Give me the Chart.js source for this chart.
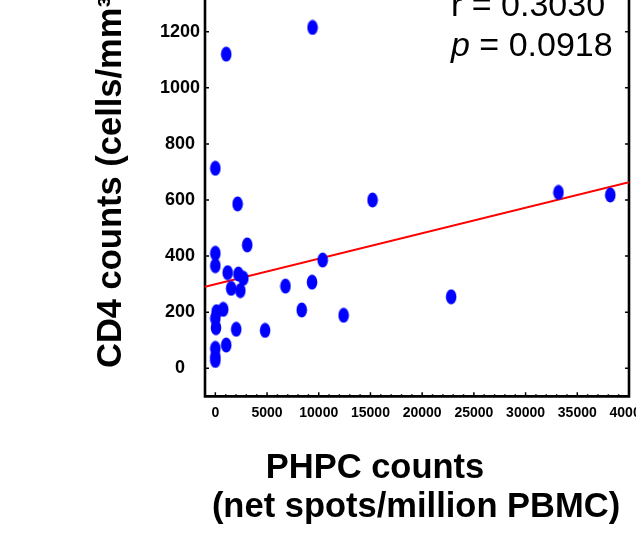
<!DOCTYPE html>
<html>
<head>
<meta charset="utf-8">
<script src="https://cdn.jsdelivr.net/npm/chart.js@4/dist/chart.umd.min.js"></script>
<style>
  html, body { margin: 0; padding: 0; background: #fff; }
  #wrap { position: relative; width: 636px; height: 542px; overflow: hidden; background: #fff; }
  #c { position: absolute; left: 0; top: -40px; }
</style>
</head>
<body>
<div id="wrap"><canvas id="c" width="636" height="582"></canvas></div>
<script>
// ---- data ----
const phpcCounts = [9400, 1050, 0, 2150, 15200, 3080, 0, 0, 1190, 2230, 2710, 1530, 2420, 10380, 6780, 9350, 8350, 12400, 4810, 2020, 760, 120, 0, 60, 1050, 0, 0, 0, 22800, 33180, 38190];
const cd4Counts  = [1215, 1120, 713, 586, 600, 440, 410, 366, 341, 336, 321, 285, 277, 386, 293, 307, 208, 189, 135, 139, 210, 202, 178, 145, 83, 71, 41, 28, 255, 627, 618];
const fitX = [-1000, 40000];
const fitY = [291, 663];
const xTickValues = [0, 5000, 10000, 15000, 20000, 25000, 30000, 35000, 40000];
const yTickValues = [0, 200, 400, 600, 800, 1000, 1200];
const statR = 'r = 0.3030';
const statP = ' = 0.0918';
const yTitle = 'CD4 counts (cells/mm³)';
const xTitle1 = 'PHPC counts';
const xTitle2 = '(net spots/million PBMC)';

const K = 40; // canvas offset (chart extends above the visible window)
const FONT = '"Liberation Sans", Arial, Helvetica, sans-serif';

// elliptical marker
const dot = document.createElement('canvas');
dot.width = 12; dot.height = 16;
(function(){
  const g = dot.getContext('2d');
  g.fillStyle = '#0000FF';
  g.beginPath();
  g.ellipse(6, 8, 5.3, 7.4, 0, 0, Math.PI * 2);
  g.fill();
})();

const scatterData = phpcCounts.map((x, i) => ({x: x, y: cd4Counts[i]}));
const fitData = fitX.map((x, i) => ({x: x, y: fitY[i]}));

const decor = {
  id: 'decor',
  beforeDatasetsDraw(chart) {
    const ctx = chart.ctx, a = chart.chartArea;
    const xs = chart.scales.x, ys = chart.scales.y;
    ctx.save();
    ctx.strokeStyle = '#000';
    ctx.lineWidth = 1.5;
    ctx.beginPath();
    yTickValues.forEach(v => {
      const py = ys.getPixelForValue(v);
      ctx.moveTo(a.left, py); ctx.lineTo(a.left + 4, py);
      ctx.moveTo(a.right, py); ctx.lineTo(a.right - 4, py);
    });
    for (let v = 0; v <= 40000; v += 1000) {
      const px = xs.getPixelForValue(v);
      const len = (v % 5000 === 0) ? 4 : 2;
      ctx.moveTo(px, a.bottom); ctx.lineTo(px, a.bottom - len);
    }
    ctx.stroke();
    ctx.lineWidth = 2.6;
    ctx.beginPath();
    ctx.moveTo(a.left, a.top - 2); ctx.lineTo(a.left, a.bottom);
    ctx.lineTo(a.right, a.bottom); ctx.lineTo(a.right, a.top - 2);
    ctx.stroke();
    ctx.restore();
  },
  afterDraw(chart) {
    const ctx = chart.ctx;
    ctx.save();
    ctx.fillStyle = '#000';
    ctx.textBaseline = 'alphabetic';
    ctx.font = '34px ' + FONT;
    ctx.textAlign = 'left';
    ctx.fillText(statR, 451, 15.5 + K);
    ctx.font = 'italic 34px ' + FONT;
    ctx.fillText('p', 451, 55.5 + K);
    const pw = ctx.measureText('p').width;
    ctx.font = '34px ' + FONT;
    ctx.fillText(statP, 451 + pw, 55.5 + K);
    ctx.font = 'bold 34.5px ' + FONT;
    ctx.textAlign = 'center';
    ctx.fillText(xTitle1, 375, 478 + K);
    ctx.fillText(xTitle2, 416, 517 + K);
    ctx.translate(121, 368 + K);
    ctx.rotate(-Math.PI / 2);
    ctx.textAlign = 'left';
    ctx.fillText(yTitle, 0, 0);
    ctx.restore();
  }
};

new Chart(document.getElementById('c'), {
  data: {
    datasets: [
      {
        type: 'scatter',
        data: scatterData,
        pointStyle: dot,
        pointRadius: 6,
        pointHoverRadius: 6,
        order: 1
      },
      {
        type: 'line',
        data: fitData,
        borderColor: '#FF0000',
        borderWidth: 2,
        pointRadius: 0,
        fill: false,
        tension: 0,
        order: 2
      }
    ]
  },
  options: {
    responsive: false,
    animation: false,
    events: [],
    layout: { padding: { top: 15.6, right: 6, left: 0, bottom: 0 } },
    plugins: { legend: { display: false }, tooltip: { enabled: false }, title: { display: false } },
    scales: {
      x: {
        type: 'linear',
        min: -1000,
        max: 40000,
        grid: { display: false, drawTicks: false },
        border: { display: false },
        afterBuildTicks(s) { s.ticks = xTickValues.map(v => ({value: v})); },
        afterFit(s) { s.height = 582 - 436.35; s.paddingLeft = 0; s.paddingRight = 0; },
        ticks: {
          autoSkip: false,
          maxRotation: 0,
          padding: 8,
          color: '#000',
          font: { family: FONT, size: 14, weight: 'bold' },
          callback: v => String(v)
        }
      },
      y: {
        type: 'linear',
        min: -100,
        max: 1400,
        grid: { display: false, drawTicks: false },
        border: { display: false },
        afterBuildTicks(s) { s.ticks = yTickValues.map(v => ({value: v})); },
        afterFit(s) { s.width = 205; s.paddingTop = 0; s.paddingBottom = 0; },
        ticks: {
          autoSkip: false,
          crossAlign: 'center',
          padding: 5,
          color: '#000',
          font: { family: FONT, size: 18, weight: 'bold' },
          callback: v => String(v)
        }
      }
    }
  },
  plugins: [decor]
});
</script>
</body>
</html>
